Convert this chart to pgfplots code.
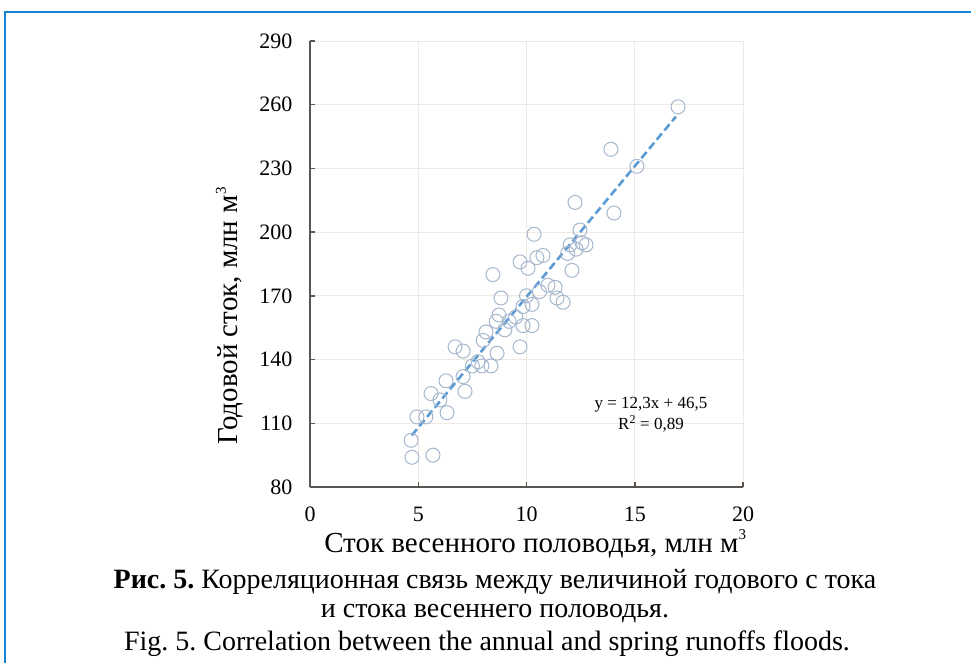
\documentclass[border=0pt]{standalone}
\usepackage{pgfplots}
\pgfplotsset{compat=1.18}
\usepackage{fontspec}
\setmainfont{Liberation Serif}
\frenchspacing
\definecolor{frameblue}{RGB}{20,130,215}
\definecolor{gridc}{RGB}{238,233,227}
\definecolor{axisc}{RGB}{90,85,80}
\definecolor{markc}{RGB}{165,182,205}
\definecolor{trendc}{RGB}{91,155,213}
\newcommand{\sups}[1]{\raisebox{0.42em}{\fontsize{15}{15}\selectfont #1}}
\begin{document}
\begin{tikzpicture}[x=1pt,y=1pt]
\useasboundingbox (0pt,0pt) rectangle (971pt,662pt);
\draw[frameblue,line width=2pt] (5pt,-20pt) -- (5pt,650pt) -- (990pt,650pt);
\begin{axis}[
  at={(310pt,175pt)}, anchor=south west,
  width=433pt, height=446pt, scale only axis,
  xmin=0, xmax=20, ymin=80, ymax=290,
  xtick={0,5,10,15,20}, ytick={80,110,140,170,200,230,260,290},
  axis lines=left, axis line style={axisc,line width=1.5pt,-},
  grid=major, grid style={gridc,line width=0.8pt},
  tick style={axisc,line width=1.5pt}, tick align=inside, major tick length=5pt,
  tick label style={font=\fontsize{22}{22}\selectfont},
  /pgf/number format/assume math mode=true,
  xticklabel style={yshift=-20pt, inner ysep=0pt},
  yticklabel style={xshift=-14pt},
  xlabel={Сток весенного половодья, млн м\sups{3}},
  ylabel={Годовой сток, млн м\sups{3}},
  label style={font=\fontsize{29}{29}\selectfont},
  xlabel style={at={(axis description cs:0.52,0)}, anchor=base, yshift=-65pt, inner ysep=0pt},
  ylabel style={at={(ticklabel cs:0.383)}, yshift=9pt},
  clip=false,
]
\addplot[only marks, mark=o, mark size=7pt, mark options={draw=markc, line width=1pt, fill=none}] coordinates {
(4.67,102) (4.71,94) (5.68,95) (4.94,113) (5.35,113) (5.59,124) (6.28,130) (6.33,115) (6.0,121)
(6.70,146) (7.07,144) (7.16,125) (7.07,132) (7.5,137) (7.76,139) (7.94,137) (8.13,153) (8.0,149)
(8.36,137) (8.45,180) (8.64,143) (8.73,161) (8.82,169) (9.0,154) (8.6,158) (9.2,158) (9.70,146)
(9.70,186) (9.84,165) (9.84,156) (9.5,160) (10.07,183) (10.35,199) (10.25,166) (10.25,156) (10.0,170)
(10.48,188) (10.76,189) (10.99,175) (11.32,174) (11.41,169) (11.69,167) (10.6,172) (12.01,194)
(12.10,182) (12.24,214) (12.47,201) (12.56,195) (12.75,194) (12.29,192) (11.9,190) (13.90,239)
(14.04,209) (15.10,231) (17.0,259)
};
\addplot[trendc, line width=2.6pt, dash pattern=on 8pt off 4pt] coordinates {(4.7,104.3) (16.9,254.4)};
\node[font=\fontsize{17}{17}\selectfont, align=center] at (axis cs:15.75,114) {y = 12,3x + 46,5\\[2pt]R\textsuperscript{2} = 0,89};
\end{axis}
\node[font=\fontsize{28}{28}\selectfont, anchor=base] at (495pt,74pt) {\textbf{Рис. 5.} Корреляционная связь между величиной годового с тока};
\node[font=\fontsize{28}{28}\selectfont, anchor=base] at (495pt,45pt) {и стока весеннего половодья.};
\node[font=\fontsize{28}{28}\selectfont, anchor=base] at (487pt,12pt) {Fig. 5. Correlation between the annual and spring runoffs floods.};
\end{tikzpicture}
\end{document}
